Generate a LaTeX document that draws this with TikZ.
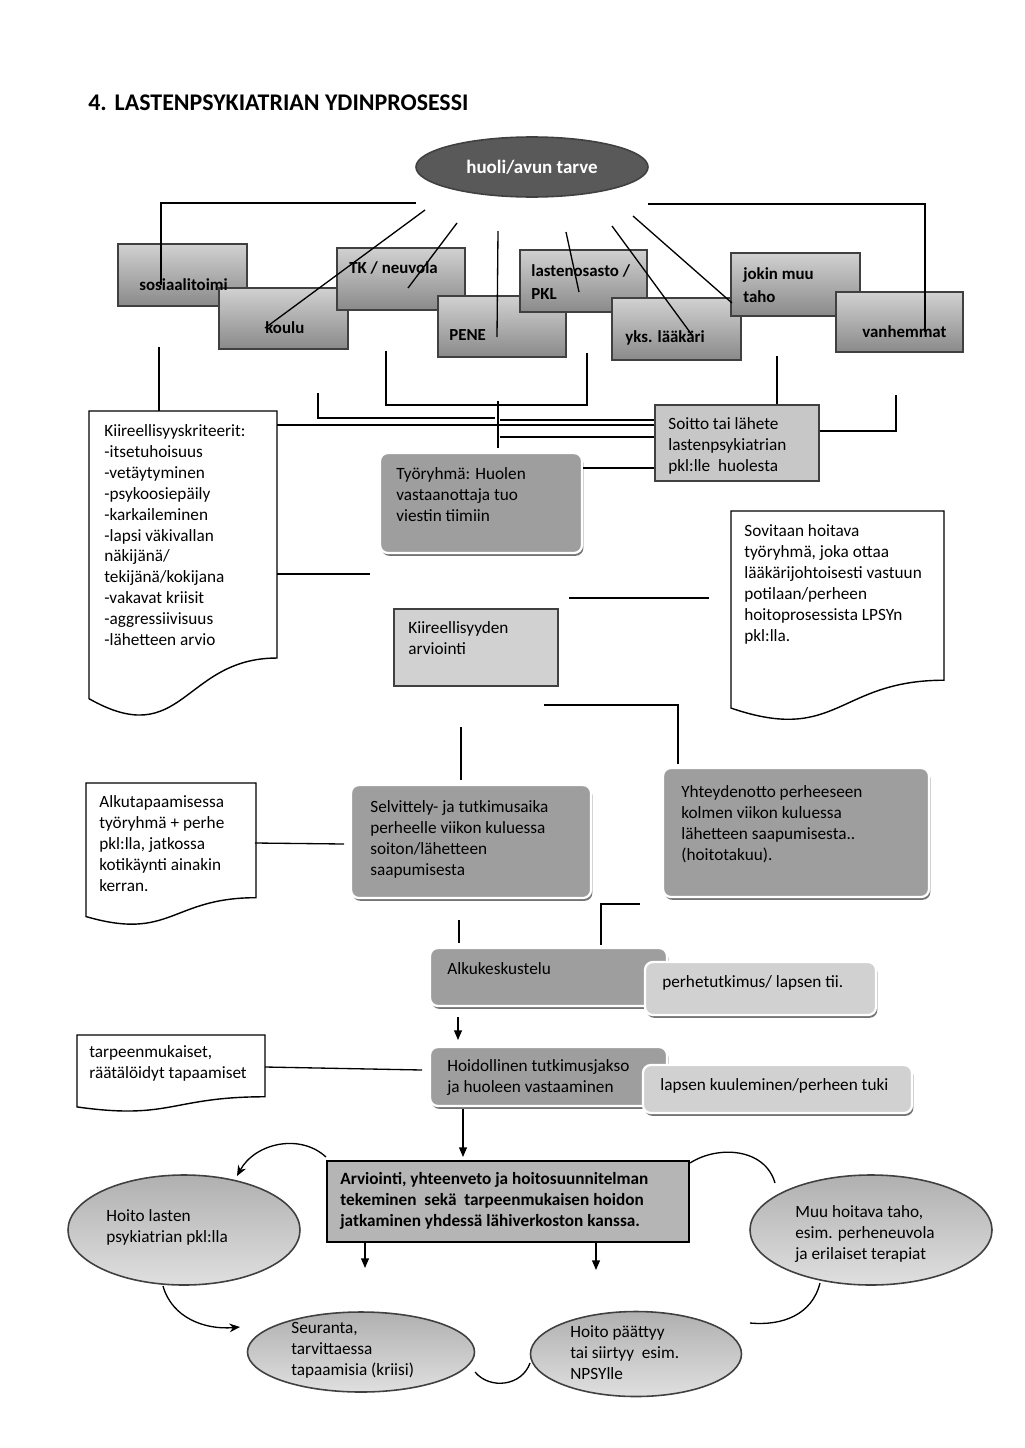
\documentclass[tikz,border=0pt]{standalone}
\usepackage{fontspec}
\setmainfont{Carlito}
\usetikzlibrary{calc,fit,shapes.geometric,shadows,arrows.meta}
\definecolor{boxtop}{gray}{0.82}
\definecolor{boxbot}{gray}{0.54}
\definecolor{darkfill}{gray}{0.35}
\definecolor{midfill}{gray}{0.62}
\definecolor{palefill}{gray}{0.82}
\definecolor{flatfill}{gray}{0.78}
\definecolor{edgecol}{gray}{0.25}
\newcommand{\px}{0.2mm}
\newcommand{\bodyfont}{\fontsize{9.8}{11.85}\selectfont}
\newcommand{\topfont}{\fontsize{9.6}{13}\selectfont\bfseries}
% document shape: x1, y1, x2, y2 (y grows downwards)
\newcommand{\docshape}[4]{%
  \pgfmathsetmacro{\dxm}{(#1+#3)/2}%
  \pgfmathsetmacro{\dyr}{#2+0.802*(#4-#2)}%
  \pgfmathsetmacro{\dyc}{#2+1.107*(#4-#2)}%
  \pgfmathsetmacro{\dyl}{#2+0.934*(#4-#2)}%
  \draw[docline] (#1,#2) -- (#3,#2) -- (#3,\dyr) .. controls (\dxm,\dyr) and (\dxm,\dyc) .. (#1,\dyl) -- cycle;
}
\tikzset{
  topbox/.style={rectangle, draw=edgecol, line width=0.9pt, top color=boxtop, bottom color=boxbot, inner sep=0pt},
  flatbox/.style={rectangle, draw=edgecol, line width=0.9pt, fill=flatfill, inner sep=0pt},
  softbox/.style={rectangle, rounded corners=4.5pt, fill=midfill, draw=white, line width=1.3pt, inner sep=0pt,
    drop shadow={shadow xshift=0.8pt, shadow yshift=-1.6pt, fill=gray!90!black, opacity=1}},
  palebox/.style={softbox, fill=palefill},
  mainbox/.style={rectangle, draw=black, line width=1pt, fill=gray!58, inner sep=0pt},
  oval/.style={ellipse, draw=edgecol, line width=0.9pt, top color=gray!62, bottom color=gray!25, inner sep=0pt},
  darkoval/.style={ellipse, draw=edgecol, line width=0.9pt, fill=darkfill, text=white, inner sep=0pt,
    font=\fontsize{10.8}{13}\selectfont\bfseries},
  docline/.style={draw=black, line width=0.8pt, fill=white},
  txt/.style={anchor=north west, inner sep=0pt, align=left, font=\bodyfont},
  toptxt/.style={anchor=north west, inner sep=0pt, align=left, font=\topfont},
  link/.style={draw=black, line width=0.75pt},
  arr/.style={link, -{Triangle[length=5.5pt,width=4.5pt]}},
  curvarr/.style={link, -{Stealth[length=6pt,width=5pt]}}
}
\begin{document}
\begin{tikzpicture}[x=\px, y=-\px]
\fill[white] (0,0) rectangle (1024,1448);
\useasboundingbox (0,0) rectangle (1024,1448);
\node[font=\fontsize{13.6}{17}\selectfont\bfseries, anchor=base west, inner sep=0pt] (title) at (88,110) {4.\hspace{4.5pt}LASTENPSYKIATRIAN YDINPROSESSI};
\node[darkoval, minimum width=232*\px, minimum height=60*\px] (huoli) at (532,167) {huoli/avun tarve};
%top boxes
\node[topbox, fit={(118,244) (247,306)}] (sos) {};
\node[topbox, fit={(219,288) (348,349)}] (koulu) {};
\node[topbox, fit={(337,248) (465,310)}] (tk) {};
\node[topbox, fit={(438,296) (566,357)}] (pene) {};
\node[topbox, fit={(520,250) (647,312)}] (lasten) {};
\node[topbox, fit={(612,298) (741,360)}] (yks) {};
\node[topbox, fit={(731,253) (860,316)}] (jokin) {};
\node[topbox, fit={(836,292) (963,352)}] (vanh) {};
%middle boxes
\node[flatbox, fit={(655,405) (819,481)}] (soitto) {};
\node[softbox, fit={(380,453) (582,553)}] (tyo) {};
\node[flatbox, fill=palefill, fit={(394,609) (558,686)}] (kiiarv) {};
\node[softbox, fit={(351,785) (591,898)}] (selv) {};
\node[softbox, fit={(663,768) (929,897)}] (yht) {};
\node[softbox, fit={(430,948) (667,1006)}] (alku) {};
\node[palebox, fit={(645,962) (876,1015)}] (perhe) {};
\node[softbox, fit={(430,1047) (667,1106)}] (hoid) {};
\node[palebox, fit={(643,1065) (912,1113)}] (kuul) {};
\node[mainbox, fit={(327,1161) (689,1242)}] (arv) {};
%documents
\docshape{89}{411}{277}{719}
\docshape{731}{511}{944}{722}
\docshape{86}{783}{256}{926}
\docshape{77}{1035}{265}{1112}
%ovals
\node[oval, minimum width=232*\px, minimum height=110*\px] (hlasten) at (184,1230) {};
\node[oval, minimum width=227*\px, minimum height=80*\px] (seur) at (361,1352) {};
\node[oval, minimum width=211*\px, minimum height=85*\px] (paat) at (636,1354) {};
\node[oval, minimum width=242*\px, minimum height=110*\px] (muu) at (871,1230) {};
%free ends
\coordinate (sosin) at (161,285);
\coordinate (hl) at (416,203);
\coordinate (hr) at (648,204);
\coordinate (vhin) at (925,332);
\coordinate (s1a) at (425,210); \coordinate (s1b) at (265,328);
\coordinate (s2a) at (457,223); \coordinate (s2b) at (408,288);
\coordinate (s3a) at (498,231); \coordinate (s3b) at (497,337);
\coordinate (s4a) at (566,232); \coordinate (s4b) at (579,292);
\coordinate (s5a) at (612,226); \coordinate (s5b) at (692,335);
\coordinate (s6a) at (633,216); \coordinate (s6b) at (732,303);
\coordinate (d1) at (159,347); \coordinate (kiitop) at (159,411);
\coordinate (u1) at (386,351); \coordinate (ubase) at (490,405); \coordinate (u2) at (587,353);
\coordinate (d3) at (777,356);
\coordinate (k1) at (318,393); \coordinate (k2) at (495,418);
\coordinate (kr1) at (277,425);
\coordinate (j1) at (500,420); \coordinate (j2) at (500,437); \coordinate (j3) at (600,468);
\coordinate (v1) at (498,401); \coordinate (v2) at (498,448);
\coordinate (b1) at (860,431); \coordinate (b2) at (896,395);
\coordinate (m1) at (277,574); \coordinate (m2) at (370,574);
\coordinate (m3) at (569,598); \coordinate (m4) at (709,598);
\coordinate (m5) at (544,705); \coordinate (m6) at (678,764);
\coordinate (m7) at (461,727); \coordinate (m8) at (461,780);
\coordinate (m9) at (255,843); \coordinate (m10) at (344,844);
\coordinate (m11) at (459,920); \coordinate (m12) at (459,943);
\coordinate (m13) at (601,945); \coordinate (m14) at (640,904);
\coordinate (a1) at (458,1017); \coordinate (a2) at (458,1040);
\coordinate (m15) at (265,1067); \coordinate (m16) at (422,1070);
\coordinate (a3) at (463,1109); \coordinate (a4) at (463,1157);
\coordinate (c1) at (326,1157); \coordinate (c2) at (237,1176);
\coordinate (a5) at (365,1268); \coordinate (a6) at (596,1270);
\coordinate (c3) at (163,1286); \coordinate (c4) at (240,1327);
\coordinate (c5) at (475,1372); \coordinate (c6) at (530,1363);
\coordinate (c7) at (690,1163); \coordinate (c8) at (775,1183);
\coordinate (c9) at (820,1283); \coordinate (c10) at (750,1323);
%connectors
\draw[link] (sosin) |- (hl);
\draw[link] (hr) -| (vhin);
\draw[link] (s1a) -- (s1b);
\draw[link] (s2a) -- (s2b);
\draw[link] (s3a) -- (s3b);
\draw[link] (s4a) -- (s4b);
\draw[link] (s5a) -- (s5b);
\draw[link] (s6a) -- (s6b);
\draw[link] (d1) -- (kiitop);
\draw[link] (u1) |- (ubase) -| (u2);
\draw[link] (d3) -- (d3 |- soitto.north);
\draw[link] (k1) |- (k2);
\draw[link] (kr1) -- (kr1 -| soitto.west);
\draw[link] (j1) -- (j1 -| soitto.west);
\draw[link] (j2) -- (j2 -| soitto.west);
\draw[link] (v1) -- (v2);
\draw[link] (j3 -| tyo.east) -- (j3 -| soitto.west);
\draw[link] (b1 -| soitto.east) -| (b2);
\draw[link] (m1) -- (m2);
\draw[link] (m3) -- (m4);
\draw[link] (m5) -| (m6);
\draw[link] (m7) -- (m8);
\draw[link] (m9) -- (m10);
\draw[link] (m11) -- (m12);
\draw[link] (m13) |- (m14);
\draw[arr] (a1) -- (a2);
\draw[link] (m15) -- (m16);
\draw[arr] (a3) -- (a4);
\draw[curvarr] (c1) .. controls (300,1133) and (255,1143) .. (c2);
\draw[arr] (a5 |- arv.south) -- (a5);
\draw[arr] (a6 |- arv.south) -- (a6);
\draw[curvarr] (c3) .. controls (172,1318) and (205,1330) .. (c4);
\draw[link] (c5) .. controls (490,1390) and (522,1386) .. (c6);
\draw[link] (c7) .. controls (718,1145) and (765,1148) .. (c8);
\draw[link] (c9) .. controls (812,1315) and (782,1326) .. (c10);
%texts
\node[toptxt] (tsos) at (139,274) {\strut sosiaalitoimi};
\node[toptxt] (tkoulu) at (265,317) {\strut koulu};
\node[toptxt] (ttk) at (349,257) {\strut TK / neuvola};
\node[toptxt] (tpene) at (449,324) {\strut PENE};
\node[toptxt] (tlasten) at (531,260) {\strut lastenosasto /\\PKL};
\node[toptxt] (tyks) at (625,326) {\strut yks. lääkäri};
\node[toptxt] (tjokin) at (743,263) {\strut jokin muu\\taho};
\node[toptxt] (tvanh) at (862,321) {\strut vanhemmat};
\node[txt] (tkiire) at (104,422) {\strut Kiireellisyyskriteerit:\\-itsetuhoisuus\\-vetäytyminen\\-psykoosiepäily\\-karkaileminen\\-lapsi väkivallan\\näkijänä/\\tekijänä/kokijana\\-vakavat kriisit\\-aggressiivisuus\\-lähetteen arvio};
\node[txt] (tsoitto) at (668,415) {\strut Soitto tai lähete\\lastenpsykiatrian\\pkl:lle\ \ huolesta};
\node[txt] (ttyo) at (396,465) {\strut Työryhmä: Huolen\\vastaanottaja tuo\\viestin tiimiin};
\node[txt] (tsov) at (744,522) {\strut Sovitaan hoitava\\työryhmä, joka ottaa\\lääkärijohtoisesti vastuun\\potilaan/perheen\\hoitoprosessista LPSYn\\pkl:lla.};
\node[txt] (tkiiarv) at (408,619) {\strut Kiireellisyyden\\arviointi};
\node[txt] (talkutap) at (99,793) {\strut Alkutapaamisessa\\työryhmä + perhe\\pkl:lla, jatkossa\\kotikäynti ainakin\\kerran.};
\node[txt] (tselv) at (370,798) {\strut Selvittely- ja tutkimusaika\\perheelle viikon kuluessa\\soiton/lähetteen\\saapumisesta};
\node[txt] (tyht) at (681,783) {\strut Yhteydenotto perheeseen\\kolmen viikon kuluessa\\lähetteen saapumisesta..\\(hoitotakuu).};
\node[txt] (talku) at (447,960) {\strut Alkukeskustelu};
\node[txt] (tperhe) at (662,973) {\strut perhetutkimus/ lapsen tii.};
\node[txt] (ttarpeen) at (89,1043) {\strut tarpeenmukaiset,\\räätälöidyt tapaamiset};
\node[txt] (thoid) at (447,1057) {\strut Hoidollinen tutkimusjakso\\ja huoleen vastaaminen};
\node[txt] (tkuul) at (660,1076) {\strut lapsen kuuleminen/perheen tuki};
\node[txt, font=\bodyfont\bfseries] (tarv) at (340,1170) {\strut Arviointi, yhteenveto ja hoitosuunnitelman\\tekeminen\ \ sekä\ \ tarpeenmukaisen hoidon\\jatkaminen yhdessä lähiverkoston kanssa.};
\node[txt] (thlasten) at (106,1207) {\strut Hoito lasten\\psykiatrian pkl:lla};
\node[txt] (tseur) at (291,1319) {\strut Seuranta,\\tarvittaessa\\tapaamisia (kriisi)};
\node[txt] (tpaat) at (570,1323) {\strut Hoito päättyy\\tai siirtyy\ \ esim.\\NPSYlle};
\node[txt] (tmuu) at (795,1203) {\strut Muu hoitava taho,\\esim. perheneuvola\\ja erilaiset terapiat};
\end{tikzpicture}
\end{document}
